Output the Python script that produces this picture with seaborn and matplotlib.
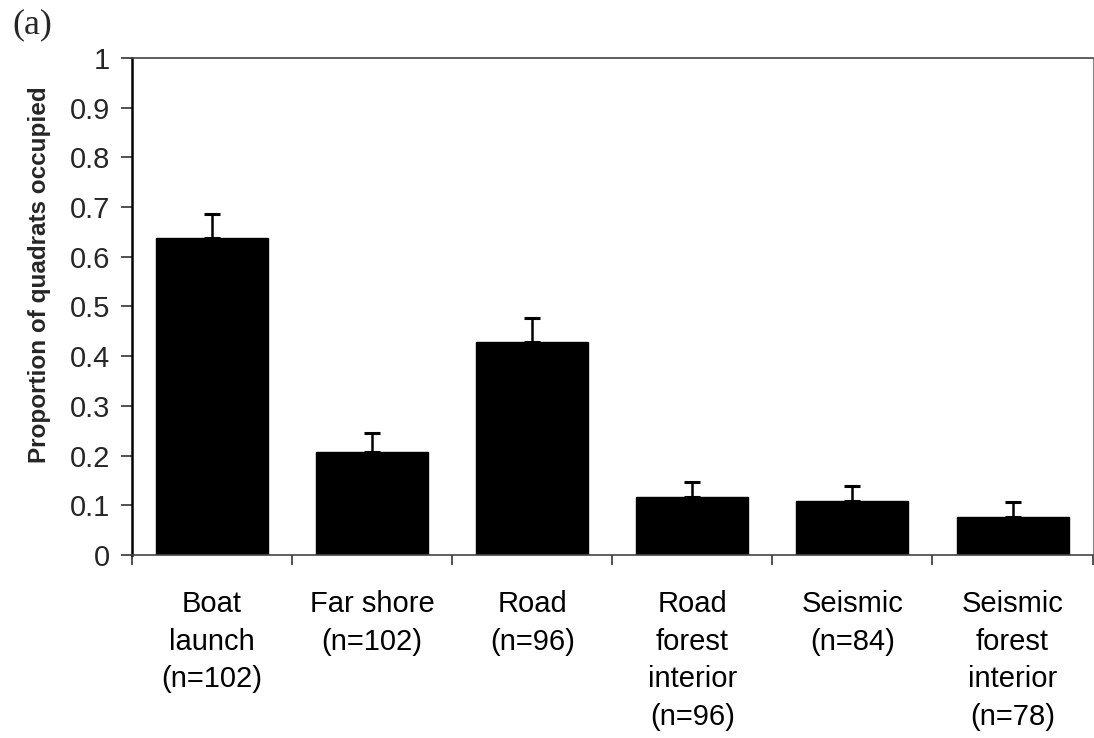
import matplotlib
matplotlib.use("Agg")
import matplotlib.pyplot as plt
import seaborn as sns
import numpy as np
import pandas as pd

categories = ["Boat\nlaunch\n(n=102)", "Far shore\n(n=102)", "Road\n(n=96)",
              "Road\nforest\ninterior\n(n=96)", "Seismic\n(n=84)",
              "Seismic\nforest\ninterior\n(n=78)"]
proportions = [0.637, 0.207, 0.428, 0.117, 0.108, 0.077]
std_errors = [0.050, 0.038, 0.049, 0.030, 0.030, 0.030]
y_ticks = [0, 0.1, 0.2, 0.3, 0.4, 0.5, 0.6, 0.7, 0.8, 0.9, 1]
y_tick_labels = ["0", "0.1", "0.2", "0.3", "0.4", "0.5", "0.6", "0.7", "0.8", "0.9", "1"]

sns.set_theme(style="white")
plt.rcParams['font.family'] = ['Liberation Sans', 'DejaVu Sans']

df = pd.DataFrame({"category": categories, "proportion": proportions, "se": std_errors})

fig = plt.figure(figsize=(10.94, 7.38), dpi=100)
ax = fig.add_axes([0.1207, 0.248, 0.878, 0.6734])

sns.barplot(data=df, x="category", y="proportion", color="black", edgecolor="black",
            width=0.7, saturation=1, errorbar=None, ax=ax)
xpos = np.arange(len(categories))
ax.errorbar(xpos, df["proportion"], yerr=[np.zeros(len(categories)), df["se"]],
            fmt="none", ecolor="black", elinewidth=1.8, capsize=6, capthick=2.2, zorder=3)

ax.set_xlim(-0.5, len(categories) - 0.5)
ax.set_ylim(0, 1)
ax.set_yticks(y_ticks)
ax.set_yticklabels(y_tick_labels, fontsize=21)
ax.set_xticks(xpos)
ax.set_xticklabels(categories, fontsize=21, linespacing=1.45)
ax.set_xticks(np.arange(len(categories) + 1) - 0.5, minor=True)
ax.tick_params(axis="x", which="major", length=0, pad=25, colors="black")
ax.tick_params(axis="x", which="minor", direction="out", length=7, width=1.2, color="#333333", bottom=True)
ax.tick_params(axis="y", direction="out", length=8, width=1.2, pad=8, left=True, color="#333333")
ax.set_xlabel("")
ax.set_ylabel("Proportion of quadrats occupied", fontsize=17.5, fontweight="bold")
ax.yaxis.set_label_coords(-0.084, 0.565)

for side, sp in ax.spines.items():
    sp.set_visible(True)
    sp.set_color("#444444")
    sp.set_linewidth(1.2)
ax.spines["left"].set_color("black")
ax.spines["left"].set_linewidth(1.8)
ax.spines["right"].set_color("#888888")
ax.spines["right"].set_linewidth(0.8)
ax.grid(False)

fig.text(0.011, 0.966, "(a)", fontsize=26, family=["Liberation Serif", "DejaVu Serif"],
         ha="left", va="center")

fig.savefig("out.png", dpi=100, facecolor="white")
